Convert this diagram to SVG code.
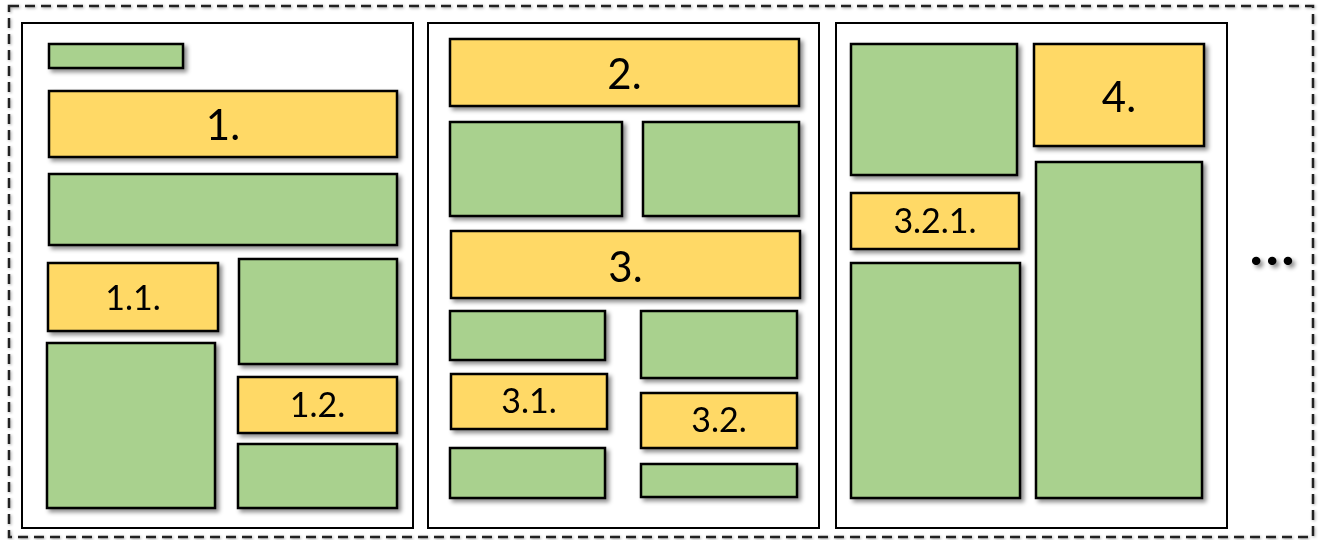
<svg xmlns="http://www.w3.org/2000/svg" width="1324" height="540" viewBox="0 0 1324 540">
<defs>
<filter id="sh" x="-10%" y="-10%" width="130%" height="130%">
<feDropShadow dx="3" dy="3" stdDeviation="2" flood-color="#000" flood-opacity="0.45"/>
</filter>
<filter id="sh2" x="-5%" y="-5%" width="110%" height="110%">
<feDropShadow dx="1" dy="1" stdDeviation="1.5" flood-color="#000" flood-opacity="0.35"/>
</filter>
</defs>
<style>
.frame{fill:none;stroke:#222;stroke-width:2.5;stroke-dasharray:10 6;}
.panel{fill:#fff;stroke:#000;stroke-width:2;}
.g{fill:#A9D18E;stroke:#000;stroke-width:2.5;}
.y{fill:#FFD966;stroke:#000;stroke-width:2.5;}
.big{font-family:Lato,"Open Sans",sans-serif;font-size:42px;fill:#000;text-anchor:middle;}
.sm{font-family:Lato,"Open Sans",sans-serif;font-size:34px;fill:#000;text-anchor:middle;}
.dots{font-family:Lato,"Open Sans",sans-serif;font-size:52px;font-weight:900;fill:#000;}
</style>
<rect class="frame" x="9" y="6" width="1304" height="531" filter="url(#sh2)"/>
<g id="panel1">
<rect class="panel" x="22" y="23" width="391" height="505"/>
</g>
<g id="panel2">
<rect class="panel" x="428" y="23" width="391" height="505"/>
</g>
<g id="panel3">
<rect class="panel" x="836" y="23" width="391" height="505"/>
</g>
<g filter="url(#sh)">
<g id="p1-g1"><rect class="g" x="49" y="44" width="134" height="24"/></g>
<g id="n1"><rect class="y" x="49" y="91" width="348" height="66"/><text class="big" x="223" y="140">1.</text></g>
<g id="p1-g2"><rect class="g" x="49" y="174" width="348" height="71"/></g>
<g id="n1-1"><rect class="y" x="48" y="263" width="170" height="68"/><text class="sm" x="133" y="310">1.1.</text></g>
<g id="p1-g3"><rect class="g" x="239" y="259" width="158" height="105"/></g>
<g id="p1-g4"><rect class="g" x="47" y="343" width="168" height="165"/></g>
<g id="n1-2"><rect class="y" x="238" y="377" width="159" height="56"/><text class="sm" x="317.5" y="417">1.2.</text></g>
<g id="p1-g5"><rect class="g" x="238" y="444" width="159" height="64"/></g>

<g id="n2"><rect class="y" x="450" y="39" width="349" height="67"/><text class="big" x="624.5" y="89">2.</text></g>
<g id="p2-g1"><rect class="g" x="450" y="122" width="172" height="94"/></g>
<g id="p2-g2"><rect class="g" x="643" y="122" width="156" height="94"/></g>
<g id="n3"><rect class="y" x="451" y="231" width="349" height="67"/><text class="big" x="625.5" y="281.5">3.</text></g>
<g id="p2-g3"><rect class="g" x="450" y="311" width="155" height="49"/></g>
<g id="p2-g4"><rect class="g" x="641" y="311" width="156" height="67"/></g>
<g id="n3-1"><rect class="y" x="451" y="374" width="156" height="55"/><text class="sm" x="529" y="413">3.1.</text></g>
<g id="n3-2"><rect class="y" x="641" y="393" width="156" height="55"/><text class="sm" x="719" y="432">3.2.</text></g>
<g id="p2-g5"><rect class="g" x="450" y="448" width="155" height="50"/></g>
<g id="p2-g6"><rect class="g" x="641" y="464" width="156" height="33"/></g>

<g id="p3-g1"><rect class="g" x="851" y="44" width="166" height="131"/></g>
<g id="n4"><rect class="y" x="1034" y="44" width="170" height="102"/><text class="big" x="1119" y="112">4.</text></g>
<g id="n3-2-1"><rect class="y" x="851" y="193" width="168" height="56"/><text class="sm" x="935" y="233">3.2.1.</text></g>
<g id="p3-g2"><rect class="g" x="1036" y="162" width="166" height="336"/></g>
<g id="p3-g3"><rect class="g" x="851" y="263" width="169" height="235"/></g>
<g id="more"><text class="dots" x="1250" y="265" letter-spacing="3.5">...</text></g>
</g>
<g id="connectors"/>
</svg>
